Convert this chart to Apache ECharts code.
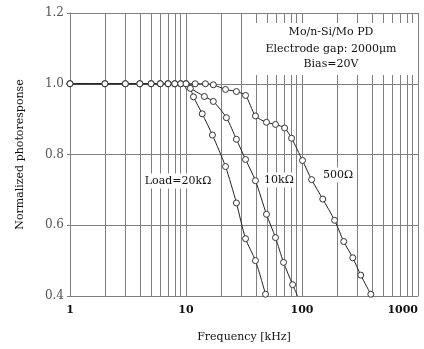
<!doctype html>
<html>
	<head>
		<meta charset="UTF-8">
		<title></title>
		<script src="https://cdn.jsdelivr.net/npm/echarts@6/dist/echarts.min.js"></script>
		<style>
			html, body { margin: 0; padding: 0; background: #fff; }
			#main { width: 424px; height: 349px; }
		</style>
	</head>
	<body>
		<div id="main"></div>
		<script type="text/javascript">
			// 低频段三条曲线共用的点 (kHz)
			var fShared = [1, 2, 3, 4, 5, 6, 7, 8, 9, 10];
			var vShared = [1.0, 1.0, 1.0, 1.0, 1.0, 1.0, 1.0, 1.0, 1.0, 1.0];

			// Load = 20kΩ
			var f20k = [10.9, 11.6, 13.8, 16.9, 21.9, 27.2, 32.6, 39.7, 48.5];
			var v20k = [0.987, 0.963, 0.915, 0.855, 0.766, 0.663, 0.562, 0.500, 0.405];

			// Load = 10kΩ (最后一点无标记)
			var f10k = [10.5, 14.4, 17.2, 22.3, 27.2, 32.6, 39.7, 49.4, 59.1, 69.3, 83, 91.6];
			var v10k = [0.991, 0.964, 0.950, 0.904, 0.843, 0.786, 0.726, 0.631, 0.565, 0.495, 0.432, 0.40];

			// Load = 500Ω
			var f500 = [12.0, 14.7, 17.2, 21.9, 27.2, 32.6, 39.7, 49.4, 59.1, 70.8, 81.3, 101, 121, 151, 191, 229, 274, 321, 392];
			var v500 = [1.0, 1.0, 0.997, 0.984, 0.978, 0.967, 0.909, 0.891, 0.885, 0.875, 0.846, 0.783, 0.729, 0.674, 0.614, 0.554, 0.508, 0.459, 0.405];

			// 坐标轴刻度
			var xTicks = [1, 10, 100, 1000];
			var yTicks = [0.4, 0.6, 0.8, 1.0, 1.2];
			// 对数轴的次网格线 2..9, 20..90, 200..900
			var minorGrid = [2, 3, 4, 5, 6, 7, 8, 9, 20, 30, 40, 50, 60, 70, 80, 90, 200, 300, 400, 500, 600, 700, 800, 900];

			var font = 'DejaVu Serif';
			var gridColor = '#7f7f7f';

			function buildData(f, v, noMarkLast) {
				var out = [];
				for (var i = 0; i < fShared.length; i++) {
					out.push([fShared[i], vShared[i]]);
				}
				for (var j = 0; j < f.length; j++) {
					if (noMarkLast && j == f.length - 1) {
						out.push({ value: [f[j], v[j]], symbol: 'none' });
					} else {
						out.push([f[j], v[j]]);
					}
				}
				return out;
			}

			function curve(name, data) {
				return {
					name: name,
					type: 'line',
					data: data,
					smooth: 0.25,
					symbol: 'circle',
					symbolSize: 6,
					z: 5,
					lineStyle: { color: '#222', width: 1 },
					itemStyle: { color: '#fff', borderColor: '#333', borderWidth: 1 }
				};
			}

			var minorLines = [];
			for (var k = 0; k < minorGrid.length; k++) {
				minorLines.push({ xAxis: minorGrid[k] });
			}

			var myChart = echarts.init(document.getElementById('main'));
			var option = {
				animation: false,
				backgroundColor: '#fff',
				grid: { left: 70, right: 6, top: 13, bottom: 53, outerBoundsMode: 'none', containLabel: false },
				xAxis: {
					type: 'log',
					logBase: 10,
					min: xTicks[0],
					max: xTicks[xTicks.length - 1],
					name: 'Frequency [kHz]',
					nameLocation: 'middle',
					nameGap: 36,
					nameTextStyle: { fontFamily: font, fontSize: 11, color: '#111' },
					axisLine: { lineStyle: { color: gridColor } },
					axisTick: { show: false },
					axisLabel: { fontFamily: font, fontSize: 11, color: '#111', fontWeight: 'bold', margin: 9,
						alignMaxLabel: 'right',
						formatter: function (v) { return String(v); } },
					splitLine: { show: true, lineStyle: { color: gridColor, width: 1 } }
				},
				yAxis: {
					type: 'value',
					min: yTicks[0],
					max: yTicks[yTicks.length - 1],
					interval: 0.2,
					name: 'Normalized photoresponse',
					nameLocation: 'middle',
					nameGap: 44,
					nameTextStyle: { fontFamily: font, fontSize: 11, color: '#111' },
					axisLine: { show: true, lineStyle: { color: gridColor } },
					axisTick: { show: true, length: 3, lineStyle: { color: gridColor } },
					axisLabel: { fontFamily: font, fontSize: 12, color: '#555', margin: 6,
						formatter: function (v) { return v.toFixed(1); } },
					splitLine: { show: true, lineStyle: { color: gridColor, width: 1 } }
				},
				series: [
					{
						// 只用来画次网格线
						type: 'line',
						data: [],
						z: 1,
						markLine: {
							silent: true,
							symbol: 'none',
							label: { show: false },
							lineStyle: { color: gridColor, width: 1, type: 'solid' },
							data: minorLines
						}
					},
					curve('500Ω', buildData(f500, v500, false)),
					curve('10kΩ', buildData(f10k, v10k, true)),
					curve('20kΩ', buildData(f20k, v20k, false))
				],
				graphic: [
					{ type: 'rect', z: 10, shape: { x: 246, y: 23, width: 170, height: 52 }, style: { fill: '#fff' } },
					{ type: 'text', z: 11, x: 331, y: 32, style: { text: 'Mo/n-Si/Mo PD', font: '11px ' + font, fill: '#111', align: 'center', verticalAlign: 'middle' } },
					{ type: 'text', z: 11, x: 331, y: 49, style: { text: 'Electrode gap: 2000μm', font: '11px ' + font, fill: '#111', align: 'center', verticalAlign: 'middle' } },
					{ type: 'text', z: 11, x: 331, y: 64, style: { text: 'Bias=20V', font: '11px ' + font, fill: '#111', align: 'center', verticalAlign: 'middle' } },
					{ type: 'text', z: 11, x: 178, y: 181, style: { text: 'Load=20kΩ', font: '11px ' + font, fill: '#111', align: 'center', verticalAlign: 'middle', backgroundColor: '#fff', padding: [2, 2] } },
					{ type: 'text', z: 11, x: 279, y: 180, style: { text: '10kΩ', font: '11px ' + font, fill: '#111', align: 'center', verticalAlign: 'middle', backgroundColor: '#fff', padding: [2, 2] } },
					{ type: 'text', z: 11, x: 338, y: 175, style: { text: '500Ω', font: '11px ' + font, fill: '#111', align: 'center', verticalAlign: 'middle', backgroundColor: '#fff', padding: [2, 2] } }
				]
			};
			myChart.setOption(option);
		</script>
	</body>
</html>
